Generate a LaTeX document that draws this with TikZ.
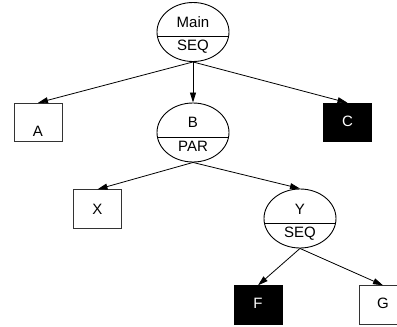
\documentclass[tikz,border=0pt]{standalone}
\usepackage{fontspec}
\setmainfont{Liberation Sans}
\usetikzlibrary{shapes.geometric,arrows.meta}
\begin{document}
\begin{tikzpicture}[x=1pt,y=-1pt,
  every node/.style={inner sep=0pt},
  txt/.style={font=\fontsize{15}{18}\selectfont, text height=10.8pt, text depth=0pt},
  opnode/.style={ellipse, draw=black, line width=0.9pt,
    minimum width=72pt, minimum height=59pt,
    path picture={\draw[line width=0.9pt]
      ([yshift=-4.5pt]path picture bounding box.west) --
      ([yshift=-4.5pt]path picture bounding box.east);}},
  leaf/.style={rectangle, draw=black!80, line width=0.9pt,
    minimum width=48pt, minimum height=38.5pt},
  dark/.style={leaf, fill=black, draw=black},
  edge/.style={line width=0.8pt, -{Triangle[length=10pt,width=6pt]}}
]
\useasboundingbox (0,0) rectangle (397,327);
\clip (0,0) rectangle (397,327);

% composite nodes (name over operator)
\node[opnode] (main) at (193,32) {};
\node[txt] (main-n) at (193,22) {Main};
\node[txt] (main-o) at (193,45) {SEQ};

\node[opnode] (b) at (193,132.5) {};
\node[txt] (b-n) at (193,122) {B};
\node[txt] (b-o) at (193,146) {PAR};

\node[opnode] (y) at (300,218.5) {};
\node[txt] (y-n) at (300,209) {Y};
\node[txt] (y-o) at (300,232) {SEQ};

% leaves
\node[leaf] (a) at (38,122.5) {};
\node[txt] (a-t) at (38,131.5) {A};
\node[dark] (c) at (347.5,122.5) {};
\node[txt, text=white] (c-t) at (347.5,121.5) {C};
\node[leaf] (x) at (97.5,209) {};
\node[txt] (x-t) at (97.5,209) {X};
\node[dark] (f) at (258,305) {};
\node[txt, text=white] (f-t) at (258,303) {F};
\node[leaf] (g) at (383,305) {};
\node[txt] (g-t) at (383,303) {G};

% edges
\draw[edge] (main.south) -- (a.north);
\draw[edge] (main.south) -- (b.north);
\draw[edge] (main.south) -- (c.north);
\draw[edge] (b.south) -- (x.north);
\draw[edge] (b.south) -- (y.north);
\draw[edge] (y.south) -- (f.north);
\draw[edge] (y.south) -- (g.north);
\end{tikzpicture}
\end{document}
